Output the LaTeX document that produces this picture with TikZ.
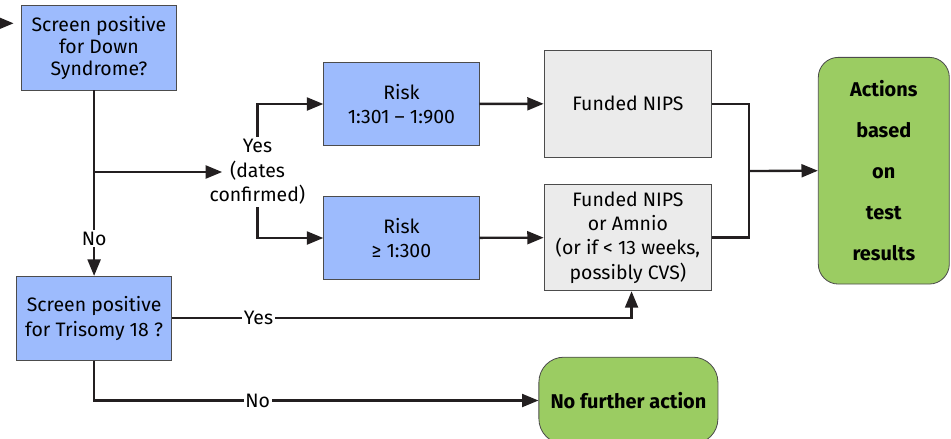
\documentclass[tikz,border=0pt]{standalone}
\usepackage{fontspec}
\setmainfont{Fira Sans}
\usetikzlibrary{arrows.meta}

\definecolor{boxblue}{RGB}{157,187,253}
\definecolor{boxgray}{RGB}{235,235,235}
\definecolor{boxgreen}{RGB}{155,204,98}
\definecolor{linedark}{RGB}{35,31,32}

\begin{document}
\begin{tikzpicture}[x=0.03cm, y=-0.03cm,
    font=\fontsize{16.6}{20.8}\selectfont,
    arr/.style={draw=linedark, line width=2pt, -{Triangle[length=14pt, width=11pt]}},
    conn/.style={draw=linedark, line width=2pt},
    lbl/.style={fill=white, inner sep=1.5pt},
    bluebox/.style={draw=black!70, fill=boxblue, line width=0.7pt, align=center, inner sep=0pt},
    graybox/.style={draw=black!70, fill=boxgray, line width=0.7pt, align=center, inner sep=0pt,
        minimum width=5.03cm, minimum height=3.2cm},
    endbox/.style={draw=black!70, fill=boxgreen, line width=0.7pt, align=center, inner sep=0pt,
        font=\bfseries\fontsize{17}{35}\selectfont}]
    \useasboundingbox (0,0) rectangle (951,438);

    \coordinate (start) at (0,23.3);
    \coordinate (merge) at (749.3,171);

    \node [bluebox, minimum width=4.67cm, minimum height=2.53cm, font=\fontsize{16.6}{19}\selectfont]
        (down) at (98.9,47.9) {Screen positive\\for Down\\Syndrome?};
    \node [bluebox, minimum width=4.66cm, minimum height=2.52cm, font=\fontsize{16.6}{21}\selectfont]
        (trisomy) at (94.1,318.3) {Screen positive\\for Trisomy 18 ?};
    \node [align=center, inner sep=2pt] (yesdates) at (257.5,172) {Yes\\(dates\\confirmed)};
    \node [bluebox, minimum width=4.66cm, minimum height=2.48cm] (risklow) at (401.4,104) {Risk\\1:301 – 1:900};
    \node [bluebox, minimum width=4.66cm, minimum height=2.48cm] (riskhigh) at (401.4,238) {Risk\\≥ 1:300};
    \node [graybox] (nips) at (627.9,103.7) {Funded NIPS};
    \node [graybox] (nipsamnio) at (627.9,237.5) {Funded NIPS\\or Amnio\\(or if < 13 weeks,\\possibly CVS)};
    \node [endbox, rounded corners=0.6cm, minimum width=3.93cm, minimum height=6.8cm]
        (actions) at (883.8,170.7) {Actions\\based\\on\\test\\results};
    \node [endbox, rounded corners=0.75cm, minimum width=5.37cm, minimum height=2.6cm]
        (noaction) at (628.4,400.5) {No further action};

    \draw [arr, shorten >=6pt] (start) -- (start -| down.west);
    \draw [arr] (down.south -| trisomy.north) -- node [lbl, pos=0.8] {No} (trisomy.north);
    \draw [arr] (trisomy.north |- yesdates.west) -- ([xshift=0.45cm]yesdates.west);
    \draw [arr] (yesdates.north) |- (risklow.west);
    \draw [arr] (yesdates.south) |- (riskhigh.west);
    \draw [arr] (risklow) -- (nips);
    \draw [arr] (riskhigh) -- (nipsamnio);
    \draw [conn] (nips.east) -| (merge);
    \draw [conn] (nipsamnio.east) -| (merge);
    \draw [arr] (merge) -- (actions.west);
    \draw [arr] (trisomy.east) -| node [lbl, pos=0.094] {Yes} ([xshift=0.11cm]nipsamnio.south);
    \draw [arr] (trisomy.south) |- node [lbl, pos=0.684] {No} (noaction.west);
\end{tikzpicture}
\end{document}
